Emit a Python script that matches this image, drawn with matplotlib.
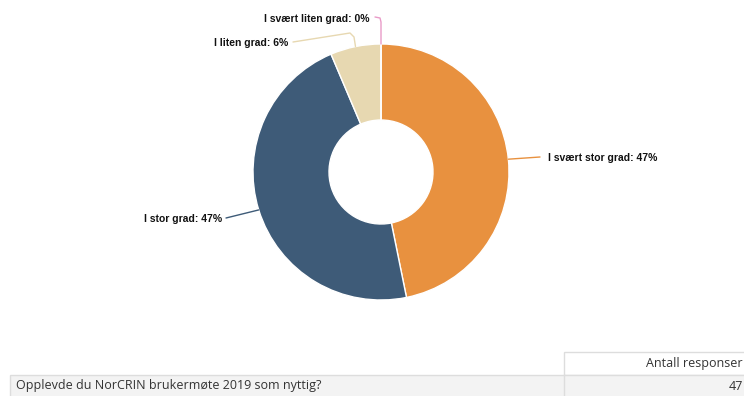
import matplotlib
matplotlib.use("Agg")
import matplotlib.pyplot as plt
from matplotlib.patches import Rectangle
import numpy as np

categories = ["I svært stor grad", "I stor grad", "I liten grad", "I svært liten grad"]
counts = [22, 22, 3, 0]
percents = [47, 47, 6, 0]
colors = ["#e8913f", "#3e5b78", "#e7d8b1", "#e99bc8"]
question = "Opplevde du NorCRIN brukermøte 2019 som nyttig?"
col_header = "Antall responser"
total = 47

W, H = 744, 396
fig = plt.figure(figsize=(W / 100, H / 100), dpi=100)
ax = fig.add_axes([0, 0, 1, 1])
ax.set_xlim(0, W)
ax.set_ylim(0, H)
ax.axis("off")

def Y(py):
    return H - py

cx, cy, R, r_in = 381, Y(172), 128, 52
wedges, _ = ax.pie(counts, colors=colors, startangle=90, counterclock=False,
                   radius=R, center=(cx, cy),
                   wedgeprops=dict(width=R - r_in, edgecolor="white", linewidth=1))
ax.set_xlim(0, W)
ax.set_ylim(0, H)
ax.set_aspect("auto")

# connectors and labels
tot = sum(counts)
start = 90.0
label_pos = [(548, 158, "left"), (222, 219, "right"), (288, 43, "right"), (370, 19, "right")]
bends = [
    [(540, 157)],
    [(226, 218)],
    [(354, 37), (350, 33), (293, 42)],
    [(381, 22), (380, 18), (375, 17)],
]
for i, (c, p) in enumerate(zip(counts, percents)):
    span = 360.0 * c / tot
    mid = np.deg2rad(start - span / 2)
    start -= span
    ex, ey = cx + R * np.cos(mid), cy + R * np.sin(mid)
    xs = [ex] + [b[0] for b in bends[i]]
    ys = [ey] + [Y(b[1]) for b in bends[i]]
    ax.plot(xs, ys, color=colors[i], lw=1, solid_capstyle="round")
    lx, ly, ha = label_pos[i]
    ax.text(lx, Y(ly), f"{categories[i]}: {p}%", ha=ha, va="center",
            fontsize=7.5, fontweight="bold", family="Liberation Sans", color="#111111")

# table
border = "#dddddd"
ax.add_patch(Rectangle((564, Y(375)), 200, 23, facecolor="white", edgecolor=border, lw=1, clip_on=True))
ax.add_patch(Rectangle((10, Y(400)), 760, 25, facecolor="#f3f3f3", edgecolor=border, lw=1, clip_on=True))
ax.plot([564, 564], [Y(375), Y(400)], color=border, lw=1)
ax.text(743, Y(364), col_header, ha="right", va="center", fontsize=9, family="Open Sans", color="#333333")
ax.text(16, Y(386), question, ha="left", va="center", fontsize=9, family="Open Sans", color="#333333")
ax.text(743, Y(386), str(total), ha="right", va="center", fontsize=9, family="Open Sans", color="#333333")

fig.savefig("out.png", dpi=100)
